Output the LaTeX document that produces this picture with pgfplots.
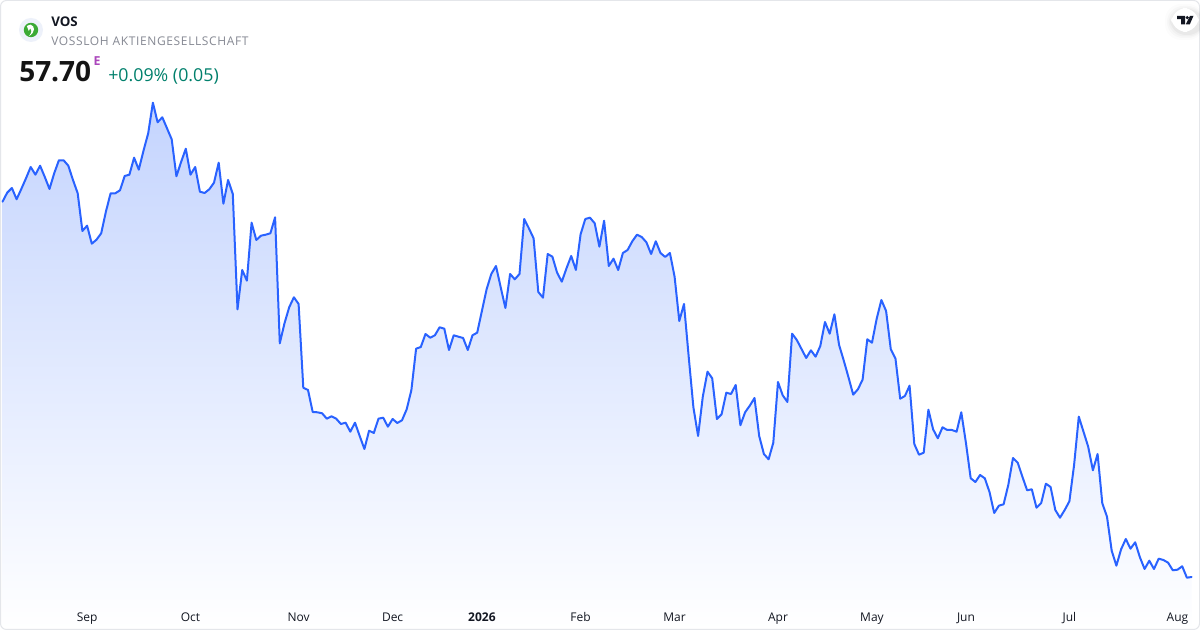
\documentclass[border=0pt]{standalone}
\usepackage{fontspec}
\setmainfont{Open Sans}
\usepackage{pgfplots}
\usepackage{pgfplotstable}
\pgfplotsset{compat=1.18}
\definecolor{tvline}{HTML}{2962FF}
\definecolor{tvtop}{HTML}{C4D4FE}
\definecolor{tvframe}{HTML}{E4E6EA}
\definecolor{tvtick}{HTML}{131722}
\definecolor{tvsub}{HTML}{868993}
\definecolor{tvgreen}{HTML}{00806C}
\definecolor{tvpurple}{HTML}{AB47BC}
\definecolor{logobg}{HTML}{EDF1FA}
\definecolor{logogreen}{HTML}{3BAA35}
% index: trading day; level: height of the close above the chart's bottom edge
\pgfplotstableread{
i level
0 428.3
1 437.3
2 442
3 430.7
4 441
5 451.7
6 463
7 455.3
8 464.3
9 453
10 441
11 456.7
12 469.7
13 469.7
14 464.3
15 450
16 436.7
17 399
18 404.3
19 386.3
20 390.3
21 396.7
22 418.3
23 436.7
24 436.7
25 439.7
26 454
27 455.3
28 472.3
29 460.3
30 479.3
31 496.7
32 527.3
33 507.7
34 512.7
35 501.7
36 490.7
37 453.7
38 468
39 481.3
40 455.3
41 463
42 438.3
43 437
44 440.7
45 447.3
46 467.3
47 426.3
48 450
49 436
50 320.7
51 360
52 349.3
53 407.3
54 390
55 394.3
56 395.3
57 396.7
58 412.7
59 286.7
60 306.7
61 322.7
62 332.7
63 326
64 242.3
65 240
66 218
67 217.7
68 216.7
69 211.3
70 213.7
71 211.3
72 206
73 207.3
74 198.3
75 207.3
76 194
77 181
78 199.3
79 197
80 211.3
81 212.3
82 203.3
83 211
84 207
85 209.7
86 220.7
87 240
88 281.3
89 283
90 296
91 292.3
92 294.7
93 302.7
94 301.3
95 280
96 294.7
97 293.3
98 292
99 280
100 294.7
101 297.3
102 319
103 340.7
104 356
105 364
106 342.7
107 322
108 356
109 350.7
110 356
111 411
112 401.7
113 391.7
114 338
115 332.3
116 376
117 373.3
118 357.3
119 348.3
120 361.7
121 374
122 360
123 395.7
124 411
125 412.3
126 406.7
127 383.3
128 409.3
129 364
130 371.3
131 360
132 377
133 380
134 388.7
135 395.3
136 393
137 387.7
138 376
139 388.7
140 377
141 373
142 377
143 353.3
144 309
145 326
146 273.3
147 222.7
148 194
149 233.3
150 258.3
151 251.7
152 211
153 215.7
154 237.3
155 236
156 245
157 204.7
158 217.7
159 224.3
160 232
161 194
162 176
163 170.7
164 187.3
165 248
166 234.7
167 228
168 296.3
169 290
170 281
171 272
172 279.7
173 273.3
174 284
175 308
176 296.3
177 315.7
178 285
179 269.3
180 252.7
181 235.3
182 240.7
183 250.3
184 290.7
185 287.3
186 311.3
187 330
188 319
189 280.7
190 271.3
191 231.3
192 234
193 244.3
194 186
195 175.3
196 177.3
197 220.3
198 200.7
199 191.7
200 202.7
201 200
202 200
203 198.3
204 217.7
205 186.7
206 151.7
207 148
208 155
209 151.7
210 138
211 117
212 124.3
213 125.7
214 145
215 172
216 167.3
217 153.3
218 139.7
219 140.7
220 122.3
221 127
222 146.3
223 143
224 120
225 112.3
226 120
227 128.7
228 165
229 213.3
230 198.3
231 183.3
232 159.7
233 176
234 126.7
235 113.3
236 79.3
237 64.3
238 80.7
239 91
240 81.3
241 87.7
242 72.7
243 61
244 69.3
245 61
246 71.3
247 70
248 67.3
249 59.7
250 60.3
251 63.7
252 52.3
253 53
}\closes
\begin{document}
\begin{tikzpicture}
\useasboundingbox (0,0) rectangle (900pt,472.5pt);
\fill[white] (0,0) rectangle (900pt,472.5pt);
\begin{axis}[
  at={(0,0)}, anchor=south west,
  scale only axis, width=900pt, height=472.5pt,
  xmin=-0.532, xmax=254.79, ymin=0, ymax=630,
  axis x line*=bottom, axis y line=none,
  axis line style={draw=none},
  axis on top=true,
  major tick length=0pt,
  ytick=\empty,
  xtick={18,40,63,83,102,123,143,165,185,205,227,250},
  xticklabels={Sep,Oct,Nov,Dec,\textbf{2026},Feb,Mar,Apr,May,Jun,Jul,Aug},
  x tick label style={font=\fontsize{9}{11}\selectfont, text=tvtick, anchor=base, yshift=6.7pt},
  clip=true,
]
\addplot[draw=none, top color=tvtop, bottom color=white, forget plot] table[x=i,y=level] {\closes} \closedcycle;
\addplot[tvline, line width=1.5pt, line join=round, line cap=round, no markers] table[x=i,y=level] {\closes};
\end{axis}
\begin{scope}[x=0.75pt,y=-0.75pt,yshift=472.5pt]
  \draw[tvframe, line width=0.75pt, rounded corners=4.5pt] (0.5,0.5) rectangle (1199.5,629.5);
  % logo
  \fill[logobg] (31,30) circle (12);
  \fill[logogreen] (31,30) circle (7.2);
  \fill[white] (30.5,24.6) .. controls (35.2,26) and (35.6,32) .. (29.2,36) .. controls (32,32) and (32,29.5) .. (30.2,28.2) -- (28.8,31) -- (26.8,26) -- cycle;
  % texts
  \node[anchor=base west, inner sep=0pt, text=tvtick, font=\fontsize{10}{11}\selectfont\bfseries] at (51,26.5) {VOS};
  \node[anchor=base west, inner sep=0pt, text=tvsub, font=\fontsize{9}{11}\selectfont\addfontfeature{LetterSpace=5.3}] at (51,45.5) {VOSSLOH AKTIENGESELLSCHAFT};
  \node[anchor=base west, inner sep=0pt, text=black!92, font=\fontsize{21}{24}\selectfont\bfseries] at (19,82) {57.70};
  \node[anchor=base west, inner sep=0pt, text=tvpurple, font=\fontsize{9.3}{10}\selectfont\bfseries] at (93.3,66) {E};
  \node[anchor=base west, inner sep=0pt, text=tvgreen, font=\fontsize{13.35}{16}\selectfont] at (108,81.5) {+0.09\% (0.05)};
  % badge
  \foreach \o/\g in {6/0.012,4/0.018,2.5/0.025,1/0.03}{
    \fill[black, opacity=\g, rounded corners=12pt] (1171-\o,8-\o+2) rectangle (1204,32+\o+2);}
  \fill[white, rounded corners=12pt] (1171,8) rectangle (1199,32);
  \fill[tvtick] (1177,15.8) -- (1185,15.8) -- (1185,24.3) -- (1181,24.3) -- (1181,19.2) -- (1177,19.2) -- cycle;
  \fill[tvtick] (1187.2,17.6) circle (1.75);
  \fill[tvtick] (1190,15.8) -- (1193.5,15.8) -- (1189.8,24.3) -- (1185.8,24.3) -- cycle;
\end{scope}
\end{tikzpicture}
\end{document}
